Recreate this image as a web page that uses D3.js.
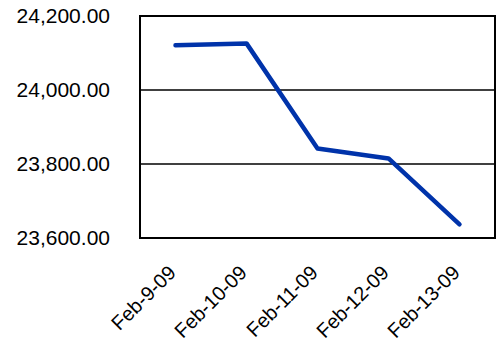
<!DOCTYPE html>
<html>
<head>
<meta charset="utf-8">
<script src="https://cdn.jsdelivr.net/npm/d3@7"></script>
<style>
  body { margin: 0; background: #fff; }
  svg { display: block; font-family: "Liberation Sans", Arial, sans-serif; }
</style>
</head>
<body>
<div id="wrapper"></div>
<script>
// data
const dates = ["Feb-9-09", "Feb-10-09", "Feb-11-09", "Feb-12-09", "Feb-13-09"]
const closes = [24121, 24126, 23842, 23815, 23637]
const yTicks = [23600, 23800, 24000, 24200]

const dimensions = {
    width: 501,
    height: 345,
    margin: { top: 16, right: 6, bottom: 107, left: 140 },
}
dimensions.boundedWidth = dimensions.width - dimensions.margin.left - dimensions.margin.right
dimensions.boundedHeight = dimensions.height - dimensions.margin.top - dimensions.margin.bottom

const svg = d3.select("#wrapper").append("svg")
    .attr("width", dimensions.width)
    .attr("height", dimensions.height)

const bounds = svg.append("g")
    .attr("transform", `translate(${dimensions.margin.left},${dimensions.margin.top})`)

const xScaler = d3.scalePoint()
    .domain(dates)
    .range([0, dimensions.boundedWidth])
    .padding(0.5)

const yScaler = d3.scaleLinear()
    .domain([23600, 24200])
    .range([dimensions.boundedHeight, 0])

// gridlines
bounds.append("g")
    .selectAll("line")
    .data(yTicks.slice(1, -1))
    .join("line")
    .attr("x1", 0)
    .attr("x2", dimensions.boundedWidth)
    .attr("y1", d => yScaler(d))
    .attr("y2", d => yScaler(d))
    .attr("stroke", "#000")
    .attr("stroke-width", 1.6)

// y axis labels
const yAxis = bounds.append("g")
    .call(d3.axisLeft(yScaler).tickValues(yTicks).tickSize(0).tickPadding(30)
        .tickFormat(d3.format(",.2f")))
yAxis.select(".domain").remove()
yAxis.selectAll("text")
    .attr("font-size", "21px")
    .attr("font-family", "Liberation Sans, Arial, sans-serif")
    .attr("fill", "#000")

// x axis labels, rotated
const xAxis = bounds.append("g")
    .attr("transform", `translate(0,${dimensions.boundedHeight})`)
    .call(d3.axisBottom(xScaler).tickSize(0).tickFormat(d => d))
xAxis.select(".domain").remove()
xAxis.selectAll("text")
    .attr("font-size", "20px")
    .attr("font-family", "Liberation Sans, Arial, sans-serif")
    .attr("fill", "#000")
    .attr("text-anchor", "end")
    .attr("y", 0)
    .attr("dy", 0)
    .attr("transform", "translate(1,36) rotate(-45)")

// plot frame
bounds.append("rect")
    .attr("width", dimensions.boundedWidth)
    .attr("height", dimensions.boundedHeight)
    .attr("fill", "none")
    .attr("stroke", "#000")
    .attr("stroke-width", 2)

const lineGen = d3.line()
    .x((d, i) => xScaler(dates[i]))
    .y(d => yScaler(d))

bounds.append("path")
    .datum(closes)
    .attr("d", lineGen)
    .attr("fill", "none")
    .attr("stroke", "#0033aa")
    .attr("stroke-width", 4.5)
    .attr("stroke-linejoin", "round")
    .attr("stroke-linecap", "round")
</script>
</body>
</html>
